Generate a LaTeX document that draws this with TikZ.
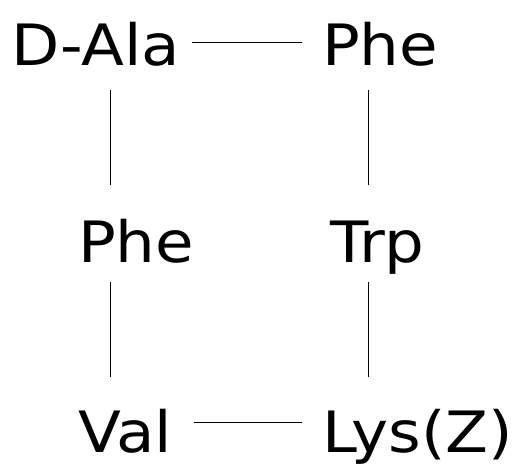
\documentclass[tikz,border=0pt]{standalone}
\usepackage{fontspec}
\setmainfont[FakeStretch=1.1]{DejaVu Sans}
\usetikzlibrary{calc}
\begin{document}
\begin{tikzpicture}[x=1pt,y=1pt,
  lbl/.style={inner sep=0pt, outer sep=0pt, anchor=base west, font=\fontsize{57}{60}\selectfont},
  conn/.style={line width=0.9pt, black}]
\useasboundingbox (0,0) rectangle (517,-466);
\node[lbl] (dala) at (12,-65) {D-Ala};
\node[lbl] (phea) at (322,-65) {Phe};
\node[lbl] (pheb) at (78,-262) {Phe};
\node[lbl] (trp) at (330,-262) {Trp};
\node[lbl] (val) at (78,-452) {Val};
\node[lbl] (lys) at (322,-452) {Lys(Z)};
\coordinate (xl) at (110,0);
\coordinate (xr) at (368,0);
\coordinate (yt) at (0,-42);
\coordinate (yb) at (0,-422);
\draw[conn] ($(dala.east |- yt)+(12,0)$) -- ($(phea.west |- yt)+(-20,0)$);
\draw[conn] ($(val.east |- yb)+(22,0)$) -- ($(lys.west |- yb)+(-20,0)$);
\draw[conn] (xl |- 0,-90) -- (xl |- 0,-185);
\draw[conn] (xl |- 0,-282) -- (xl |- 0,-377);
\draw[conn] (xr |- 0,-90) -- (xr |- 0,-185);
\draw[conn] (xr |- 0,-282) -- (xr |- 0,-377);
\end{tikzpicture}
\end{document}
